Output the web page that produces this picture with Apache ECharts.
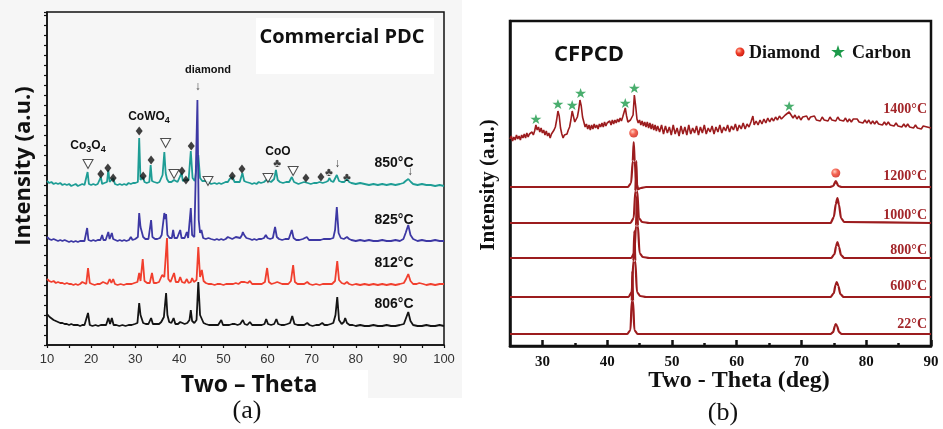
<!DOCTYPE html>
<html>
<head>
<meta charset="utf-8">
<script src="https://cdn.jsdelivr.net/npm/echarts@6.0.0/dist/echarts.min.js"></script>
<style>
  html, body { margin: 0; padding: 0; background: #fff; }
  #chart { width: 943px; height: 429px; }
</style>
</head>
<body>
<div id="chart"></div>
<script>
// ---------- Panel (a): Commercial PDC, stacked XRD patterns [2θ, offset intensity] ----------
const tickLabelsA = [10, 20, 30, 40, 50, 60, 70, 80, 90, 100];
const ticksA = [10, 15, 20, 25, 30, 35, 40, 45, 50, 55, 60, 65, 70, 75, 80, 85, 90, 95, 100];

const pattern850 = [
[10,164],[10.5,162],[11,163],[11.5,161],[12,162],[12.5,161],[13,162],[13.5,160],[14,161],[14.5,160],[15,161],[15.5,159],[16,160],[16.5,161],[17,159],[17.5,160],[18,161],[18.5,160],[18.9,161],[19.2,173],[19.5,161],[20,160],[20.5,161],[21,160],[21.5,161],[21.9,161],[22.2,168],[22.5,161],[23,162],[23.6,163],[23.9,175],[24.2,163],[24.6,163],[25.0,167],[25.4,161],[26,160],[26.5,161],[27,160],[27.5,161],[28,160],[28.5,162],[29,161],[29.5,162],[30,162],[30.6,163],[30.9,207],[31.2,165],[31.5,164],[31.8,168],[32.1,163],[32.6,162],[33.2,163],[33.5,180],[33.8,164],[34.3,163],[35,162],[35.5,163],[35.9,167],[36.2,170],[36.6,193],[36.9,172],[37.2,166],[37.6,163],[38.2,163],[38.5,164],[38.8,165],[39.1,163],[39.6,163],[40.0,164],[40.5,172],[40.8,164],[41.1,163],[41.4,165],[41.7,164],[42.1,165],[42.6,194],[43.0,167],[43.5,164],[43.9,166],[44.3,190],[44.7,167],[45.2,164],[45.8,164],[46.2,165],[46.6,163],[47.2,161],[48,162],[48.5,161],[49,162],[49.5,161],[50,162],[50.5,163],[51.0,163],[51.4,166],[51.8,165],[52.1,168],[52.5,163],[53,163],[53.7,163],[54.3,172],[54.7,164],[55.2,163],[56,162],[56.5,161],[57,162],[57.5,161],[58,163],[58.5,162],[59.2,163],[59.7,165],[60.1,163],[60.8,163],[61.5,166],[61.9,175],[62.3,165],[62.8,163],[63.5,162],[64.2,163],[64.9,163],[65.5,168],[66,163],[66.5,162],[67,161],[67.6,162],[68.3,163],[68.7,165],[69.1,162],[69.8,161],[70.5,162],[71.2,162],[71.8,163],[72.1,165],[72.5,162],[73.2,163],[73.7,164],[74.0,167],[74.4,164],[74.9,163],[75.7,170],[76.2,164],[76.8,163],[77.4,163],[78.0,166],[78.5,163],[79,162],[80,161],[81,162],[82,161],[83,160],[84,161],[85,160],[86,161],[87,160],[88,161],[89,160],[90,161],[90.8,162],[91.3,164],[91.9,166],[92.5,163],[93,161],[94,160],[95,161],[96,160],[97,160],[98,159],[99,160],[100,159]
];

const pattern825 = [
[10,108],[10.5,106],[11,105],[11.5,106],[12,105],[12.5,104],[13,105],[13.5,104],[14,105],[14.5,104],[15,103],[15.5,104],[16,103],[16.5,104],[17,103],[17.5,104],[18,104],[18.5,104],[18.8,105],[19.1,117],[19.4,105],[20,104],[20.5,105],[21,104],[21.5,105],[22.1,105],[22.5,110],[22.8,105],[23.3,105],[23.9,113],[24.2,106],[24.7,112],[25.0,106],[25.5,105],[26,104],[26.5,105],[27,104],[27.5,105],[28,104],[28.6,105],[29.0,108],[29.4,105],[30,106],[30.6,108],[30.9,132],[31.2,118],[31.5,120],[31.8,108],[32.3,106],[33,106],[33.3,108],[33.6,125],[33.9,108],[34.5,106],[35,106],[35.6,107],[36.0,110],[36.6,132],[36.8,126],[37.0,131],[37.3,110],[37.8,107],[38.3,107],[38.6,115],[38.9,107],[39.5,107],[40.2,115],[40.5,107],[41.2,107],[41.7,113],[42.0,107],[42.3,108],[42.6,137],[42.9,110],[43.4,108],[43.8,110],[44.1,245],[44.4,125],[44.7,112],[45.0,115],[45.4,107],[46,106],[46.6,107],[47.2,106],[48,105],[48.5,106],[49,105],[49.5,106],[50,105],[50.5,106],[51.0,108],[51.4,106],[52,106],[52.4,107],[52.8,108],[53.2,106],[53.8,107],[54.2,110],[54.4,113],[54.7,110],[55.2,107],[56,106],[56.5,105],[57,106],[57.5,105],[58,106],[58.6,106],[59.2,107],[59.6,110],[60.0,107],[60.6,106],[61.2,107],[61.7,118],[62.1,108],[62.6,106],[63.3,105],[64,106],[64.8,106],[65.5,115],[65.9,107],[66.5,105],[67.2,105],[68,106],[68.9,108],[69.4,105],[70,105],[71,105],[72,105],[72.7,106],[73.4,106],[74.2,106],[74.9,107],[75.3,115],[75.7,138],[76.1,112],[76.6,107],[77.3,106],[78.0,108],[78.5,106],[79,105],[80,104],[81,105],[82,104],[83,105],[84,104],[85,104],[86,105],[87,104],[88,104],[89,105],[90,104],[90.8,106],[91.3,112],[91.9,120],[92.4,110],[93,106],[94,104],[95,105],[96,104],[97,104],[98,105],[99,104],[100,104]
];

const pattern812 = [
[10,66],[10.5,64],[11,63],[11.5,64],[12,62],[12.5,63],[13,62],[13.5,62],[14,61],[14.5,62],[15,61],[15.5,61],[16,60],[16.5,61],[17,60],[17.5,61],[18.0,63],[18.4,61],[18.9,61],[19.3,77],[19.7,62],[20.2,61],[20.8,60],[21.4,61],[22,61],[22.7,63],[23.1,61],[23.7,61],[24.2,66],[24.6,62],[25.0,66],[25.4,61],[26,60],[26.7,61],[27.4,60],[28,61],[28.6,61],[29.2,61],[29.8,62],[30.5,63],[30.9,72],[31.2,64],[31.7,86],[32.1,64],[32.7,62],[33.3,62],[33.8,72],[34.2,62],[34.8,62],[35.4,63],[36.1,70],[36.6,68],[37.0,70],[37.2,107],[37.5,66],[38.0,63],[38.4,63],[38.8,72],[39.2,63],[39.8,63],[40.2,68],[40.6,63],[41.2,62],[41.7,66],[42.1,62],[42.6,63],[42.9,67],[43.3,63],[43.9,65],[44.3,98],[44.7,68],[45.1,75],[45.5,64],[46,62],[46.6,61],[47.3,61],[48,60],[48.6,61],[49.3,61],[50,60],[50.6,61],[51.0,63],[51.5,61],[52.2,61],[52.8,62],[53.4,61],[54.0,63],[54.4,65],[54.8,63],[55.1,65],[55.5,62],[56.0,64],[56.5,61],[57.2,61],[58,61],[58.7,61],[59.4,63],[59.9,77],[60.3,63],[60.9,61],[61.6,62],[62.2,63],[62.6,61],[63.3,61],[64,61],[64.7,61],[65.3,64],[65.8,80],[66.2,63],[66.8,61],[67.5,61],[68.3,61],[69.0,63],[69.5,61],[70.2,60],[71,61],[71.8,60],[72.5,61],[73.2,61],[73.9,61],[74.6,61],[75.3,64],[75.8,84],[76.2,65],[76.8,62],[77.4,61],[78.0,63],[78.5,61],[79.2,60],[80,61],[81,60],[82,61],[83,60],[84,61],[85,60],[86,61],[87,60],[88,61],[89,60],[90,61],[90.9,62],[91.4,66],[91.9,71],[92.4,64],[93,61],[93.8,61],[94.4,62],[94.8,63],[95.3,61],[96,60],[97,61],[98,60],[99,61],[100,61]
];

const pattern806 = [
[10,31],[10.3,30],[10.6,28],[11,27],[11.5,25],[12,24],[12.5,23],[13,22],[13.5,22],[14,21],[14.5,21],[15,20],[15.5,21],[16,20],[16.5,20],[17,20],[17.5,19],[18,20],[18.5,20],[18.9,20],[19.3,32],[19.7,20],[20.3,19],[21,20],[21.6,19],[22.2,20],[22.8,20],[23.4,20],[23.9,27],[24.3,21],[24.7,27],[25.1,20],[25.7,20],[26.4,19],[27.1,20],[27.8,19],[28.5,20],[29.2,20],[29.9,21],[30.5,22],[30.9,42],[31.2,30],[31.5,30],[31.8,22],[32.4,21],[33.0,21],[33.6,27],[34.0,21],[34.7,21],[35.4,21],[35.9,23],[36.5,28],[37.0,52],[37.3,30],[37.7,23],[38.2,22],[38.7,27],[39.1,21],[39.7,21],[40.2,23],[40.6,21],[41.2,21],[41.8,22],[42.3,25],[42.6,35],[42.9,24],[43.4,22],[43.9,25],[44.3,63],[44.7,30],[45.1,32],[45.5,22],[46,21],[46.7,20],[47.4,20],[48.1,20],[48.8,20],[49.5,25],[49.9,20],[50.6,20],[51.3,20],[52,21],[52.6,21],[53.2,20],[53.8,21],[54.4,25],[54.8,21],[55.4,20],[56.0,23],[56.5,20],[57.2,20],[58,20],[58.7,20],[59.3,21],[59.7,26],[60.1,21],[60.8,20],[61.5,21],[62.0,26],[62.4,21],[63.1,20],[63.8,20],[64.5,21],[65.1,22],[65.6,29],[66.1,21],[66.8,20],[67.5,20],[68.3,20],[69.0,22],[69.5,20],[70.2,19],[71,20],[71.7,20],[72.4,22],[72.9,20],[73.6,20],[74.3,21],[74.9,22],[75.4,30],[75.8,48],[76.2,25],[76.8,21],[77.3,23],[77.6,27],[78.0,22],[78.6,20],[79.3,20],[80,19],[81,20],[82,19],[83,19],[84,20],[85,19],[86,19],[87,20],[88,19],[89,19],[90,20],[90.9,21],[91.4,27],[91.9,33],[92.4,24],[93,20],[94,19],[95,19],[96,20],[97,19],[98,19],[99,20],[100,19]
];

// phase markers above the 850 °C pattern
const cowo4Marks = [[22.2,171],[23.8,177],[25.0,167],[30.9,214],[31.8,169],[33.6,185],[40.6,174],[41.5,165],[42.7,199],[52.0,169],[54.2,176],[68.7,167],[72.1,168]];
const co3o4Marks = [[19.3,181],[36.9,202],[38.8,171],[46.5,164],[60.1,167],[65.8,174]];
const cooMarks = [[62.2,181],[73.9,172],[78.0,167]];
const arrowMarks = [[75.8,181],[92.3,173],[44.2,258]];

// ---------- Panel (b): CFPCD ----------
const tickLabelsB = [30, 40, 50, 60, 70, 80, 90];
const minorTicksB = [35, 45, 55, 65, 75, 85];

const cfpcd1400 = [
[25.0,207],[25.2,210],[25.4,205],[25.6,209],[25.8,206],[26.0,211],[26.2,207],[26.4,210],[26.6,206],[26.8,211],[27.0,208],[27.2,212],[27.4,208],[27.6,213],[27.8,209],[28.0,212],[28.2,210],[28.4,214],[28.6,211],[28.8,215],[29.0,221],[29.1,222],[29.2,216],[29.4,219],[29.6,214],[29.8,218],[30.0,213],[30.2,216],[30.4,211],[30.6,215],[30.8,210],[31.0,213],[31.2,208],[31.4,212],[31.6,214],[31.8,216],[32.0,219],[32.2,226],[32.4,235],[32.6,230],[32.8,218],[33.0,212],[33.2,208],[33.4,211],[33.6,213],[33.8,212],[34.0,216],[34.2,219],[34.4,226],[34.6,235],[34.8,233],[35.0,224],[35.2,222],[35.4,229],[35.6,236],[35.8,246],[36.0,240],[36.2,229],[36.4,224],[36.6,219],[36.8,222],[37.0,217],[37.2,221],[37.4,216],[37.6,221],[37.8,217],[38.0,222],[38.2,218],[38.4,221],[38.6,217],[38.8,222],[39.0,219],[39.2,223],[39.4,219],[39.6,224],[39.8,220],[40.0,223],[40.2,221],[40.4,225],[40.6,221],[40.8,226],[41.0,222],[41.2,226],[41.4,223],[41.6,227],[41.8,224],[42.0,228],[42.2,225],[42.4,229],[42.6,227],[42.8,238],[42.9,239],[43.0,230],[43.2,224],[43.4,222],[43.6,226],[43.8,224],[44.0,231],[44.2,251],[44.3,251],[44.4,240],[44.6,227],[44.8,223],[45.0,226],[45.2,221],[45.4,225],[45.6,220],[45.8,224],[46.0,219],[46.2,224],[46.4,218],[46.6,223],[46.8,217],[47.0,222],[47.2,216],[47.4,221],[47.6,215],[47.8,220],
[48.1,214],[48.4,221],[48.7,212],[49.0,220],[49.3,213],[49.6,219],[49.9,211],[50.2,221],[50.5,212],[50.8,218],[51.1,210],[51.4,220],[51.7,212],[52.0,219],[52.3,211],[52.6,221],[52.9,212],[53.2,218],[53.5,213],[53.8,220],[54.1,211],[54.4,219],[54.7,213],[55.0,221],[55.3,212],[55.6,218],[55.9,214],[56.2,220],[56.5,212],[56.8,219],[57.1,214],[57.4,221],[57.7,213],[58.0,219],[58.3,215],[58.6,221],[58.9,214],[59.2,220],[59.5,216],[59.8,222],[60.1,215],[60.4,221],[60.7,217],[61.0,223],[61.3,217],[61.6,222],[61.9,219],[62.2,224],[62.5,230],[62.7,221],[63.0,225],[63.3,221],[63.6,226],[63.9,222],[64.2,227],[64.5,223],[64.8,228],[65.1,224],[65.4,228],[65.7,225],[66.0,229],[66.3,226],[66.6,230],[66.9,227],[67.2,229],[67.5,231],[67.8,229],[68.1,234],[68.4,231],[68.7,228],[69.0,231],[69.3,227],[69.6,230],[69.9,226],[70.2,229],[70.5,227],[70.8,230],[71.1,226],[71.4,229],[71.7,227],[72.0,230],[72.3,226],[72.6,228],[72.9,225],[73.2,229],[73.5,226],[73.8,228],[74.1,225],[74.4,229],[74.7,226],[75.0,228],[75.3,225],[75.6,229],[75.9,226],[76.2,228],[76.5,225],[76.8,228],[77.1,224],[77.4,227],[77.7,224],[78.0,227],[78.3,225],[78.6,227],[78.9,224],[79.2,226],[79.5,223],[79.8,226],[80.1,223],[80.4,226],[80.7,222],[81.0,225],[81.3,222],[81.6,225],[81.9,222],[82.2,224],[82.5,221],[82.8,224],[83.1,221],[83.4,224],[83.7,221],[84.0,223],[84.3,220],[84.6,223],[84.9,220],[85.2,222],[85.5,219],[85.8,222],[86.1,219],[86.4,222],[86.7,219],[87.0,221],[87.3,218],[87.6,221],[87.9,218],[88.2,220],[88.5,217],[88.8,220],[89.1,218],[89.4,219],[89.7,217],[90,218]
];
const cfpcd1200 = [[25,159],[35,159],[42,159],[43.2,159],[43.7,163],[43.95,185],[44.1,204],[44.25,185],[44.5,163],[44.8,157],[45.2,158],[46,159],[60,159],[74.4,159],[74.9,160],[75.3,165],[75.7,160],[76.2,159],[90,159]];
const cfpcd1000 = [[25,123],[35,123],[42,123],[43.6,123],[44.1,128],[44.35,155],[44.5,185],[44.65,155],[44.9,128],[45.4,124],[46.5,123],[60,123],[74.5,123],[75.0,129],[75.3,142],[75.55,148],[75.8,141],[76.1,128],[76.6,124],[90,123]];
const cfpcd800 = [[25,88],[35,88],[42,88],[43.7,88],[44.2,93],[44.45,120],[44.6,150],[44.75,120],[45.0,93],[45.5,89],[46.5,88],[60,88],[74.6,88],[75.1,92],[75.35,100],[75.55,104],[75.8,99],[76.1,91],[76.6,88],[90,88]];
const cfpcd600 = [[25,49],[35,49],[42,49],[43.3,49],[43.8,54],[44.05,85],[44.2,115],[44.35,85],[44.6,54],[45.1,50],[46,49],[60,49],[74.5,49],[75.0,53],[75.25,61],[75.45,64],[75.7,60],[76.0,52],[76.5,49],[90,49]];
const cfpcd22 = [[25,12],[35,12],[42,12],[43.1,12],[43.6,16],[43.8,45],[43.9,75],[44.0,45],[44.2,16],[44.7,12],[60,12],[74.5,12],[74.9,14],[75.15,20],[75.3,22],[75.5,20],[75.8,14],[76.2,12],[90,12]];

const diamondMarksB = [[44.1,213],[75.3,173]];
const carbonMarksB = [[29.0,227],[32.4,242],[34.6,241],[35.9,253],[42.8,243],[44.2,258],[68.1,240]];

const labelsA = ['850°C', '825°C', '812°C', '806°C'];
const labelsB = ['1400°C', '1200°C', '1000°C', '800°C', '600°C', '22°C'];

// ---------- styling ----------
const colTeal = '#1e9d95', colBlue = '#3d38a4', colRed = '#f13f2e', colBlack = '#141414';
const colWine = '#9c1c1e', colWineText = '#a3262a';
const starVerts = [[50,0],[61.8,35.5],[99,35.5],[69,57.5],[80.5,93],[50,71],[19.5,93],[31,57.5],[1,35.5],[38.2,35.5]];
const starPath = 'path://M' + starVerts.map(v => v.join(',')).join(' L') + ' Z';
const gemColor = { type: 'radial', x: 0.38, y: 0.35, r: 0.7, colorStops: [{ offset: 0, color: '#ffc2b0' }, { offset: 0.45, color: '#f2402a' }, { offset: 1, color: '#c8180e' }] };
const sans = '"Open Sans", "DejaVu Sans", sans-serif';
const arial = '"Liberation Sans", Arial, sans-serif';
const serif = '"Liberation Serif", "Times New Roman", serif';

const measureCtx = document.createElement('canvas').getContext('2d');
function textWidth(t, font) { measureCtx.font = font; return measureCtx.measureText(t).width; }
// chemical formula with subscripts, centred on (cx, cy)
function formula(cx, cy, parts) {
  const big = 'bold 12px ' + arial, small = 'bold 9px ' + arial;
  const total = parts.reduce((s, p) => s + textWidth(p[0], p[1] ? small : big), 0);
  let x = cx - total / 2;
  return parts.map(p => {
    const f = p[1] ? small : big;
    const el = { type: 'text', x: x, y: cy + (p[1] ? 4 : 0), z: 50,
      style: { text: p[0], font: f, fill: '#111', align: 'left', verticalAlign: 'middle' } };
    x += textWidth(p[0], f);
    return el;
  });
}

function curve(data, color, xi, width, z, smooth) {
  const s = { type: 'line', data: data, xAxisIndex: xi, yAxisIndex: xi, symbol: 'none', showSymbol: false,
    smooth: smooth ? 0.25 : false,
    lineStyle: { color: color, width: width }, itemStyle: { color: color }, z: z, animation: false, silent: true };
  if (smooth) s.smoothMonotone = 'x';
  return s;
}
function glyphs(data, glyph, font, xi) {
  return { type: 'scatter', data: data, xAxisIndex: xi, yAxisIndex: xi, symbol: 'circle', symbolSize: 1,
    itemStyle: { color: 'rgba(0,0,0,0)' }, z: 20, silent: true, animation: false,
    label: { show: true, position: 'inside', formatter: glyph, font: font, color: '#111' } };
}

const chart = echarts.init(document.getElementById('chart'), null, { renderer: 'canvas' });

const graphics = [
  // light grey backdrop of panel (a) with white boxes behind the heading and axis title
  { type: 'rect', z: -10, shape: { x: 0, y: 0, width: 462, height: 398 }, style: { fill: '#f6f6f6' } },
  { type: 'rect', z: -9, shape: { x: 256, y: 18, width: 178, height: 56 }, style: { fill: '#ffffff' } },
  { type: 'rect', z: -9, shape: { x: 0, y: 370, width: 368, height: 28 }, style: { fill: '#ffffff' } },

  { type: 'text', x: 342, y: 37, z: 50, style: { text: 'Commercial PDC', font: 'bold 20px ' + sans, fill: '#111', align: 'center', verticalAlign: 'middle' } },
  { type: 'text', x: 24, y: 166, rotation: Math.PI / 2, z: 50, style: { text: 'Intensity (a.u.)', font: 'bold 22px ' + sans, fill: '#111', align: 'center', verticalAlign: 'middle' } },
  { type: 'text', x: 249, y: 385, z: 50, style: { text: 'Two – Theta', font: 'bold 23px ' + sans, fill: '#111', align: 'center', verticalAlign: 'middle' } },
  { type: 'text', x: 247, y: 411, z: 50, style: { text: '(a)', font: '26px ' + serif, fill: '#111', align: 'center', verticalAlign: 'middle' } },
  { type: 'text', x: 208, y: 70, z: 50, style: { text: 'diamond', font: 'bold 11px ' + arial, fill: '#111', align: 'center', verticalAlign: 'middle' } },
  { type: 'text', x: 278, y: 152, z: 50, style: { text: 'CoO', font: 'bold 12px ' + arial, fill: '#111', align: 'center', verticalAlign: 'middle' } },
  ...formula(88, 146, [['Co', 0], ['3', 1], ['O', 0], ['4', 1]]),
  ...formula(149, 117, [['CoWO', 0], ['4', 1]]),

  // panel (b) texts and legend
  { type: 'text', x: 589, y: 55, z: 50, style: { text: 'CFPCD', font: 'bold 22px ' + sans, fill: '#111', align: 'center', verticalAlign: 'middle' } },
  { type: 'circle', z: 50, shape: { cx: 740, cy: 52, r: 4.5 }, style: { fill: gemColor } },
  { type: 'text', x: 749, y: 53, z: 50, style: { text: 'Diamond', font: 'bold 18px ' + serif, fill: '#111', align: 'left', verticalAlign: 'middle' } },
  { type: 'polygon', z: 50, shape: { points: starVerts.map(v => [831 + v[0] * 0.14, 45 + v[1] * 0.14]) }, style: { fill: '#1d9a4a' } },
  { type: 'text', x: 852, y: 53, z: 50, style: { text: 'Carbon', font: 'bold 18px ' + serif, fill: '#111', align: 'left', verticalAlign: 'middle' } },
  { type: 'text', x: 489, y: 185, rotation: Math.PI / 2, z: 50, style: { text: 'Intensity (a.u.)', font: 'bold 21px ' + serif, fill: '#111', align: 'center', verticalAlign: 'middle' } },
  { type: 'text', x: 739, y: 381, z: 50, style: { text: 'Two - Theta (deg)', font: 'bold 24px ' + serif, fill: '#111', align: 'center', verticalAlign: 'middle' } },
  { type: 'text', x: 723, y: 413, z: 50, style: { text: '(b)', font: '26px ' + serif, fill: '#111', align: 'center', verticalAlign: 'middle' } }
];

const labelYA = [163, 220, 263, 304];
labelsA.forEach((t, i) => graphics.push({ type: 'text', x: 394, y: labelYA[i], z: 50,
  style: { text: t, font: 'bold 14px ' + arial, fill: '#111', align: 'center', verticalAlign: 'middle' } }));
const labelYB = [109, 176, 215, 250, 286, 324];
labelsB.forEach((t, i) => graphics.push({ type: 'text', x: 927, y: labelYB[i], z: 50,
  style: { text: t, font: 'bold 14px ' + serif, fill: colWineText, align: 'right', verticalAlign: 'middle' } }));

const option = {
  backgroundColor: '#ffffff',
  animation: false,
  grid: [
    { left: 47, top: 12, width: 397, height: 333, show: true, borderColor: '#111', borderWidth: 1.5, backgroundColor: 'transparent' },
    { left: 510, top: 21, width: 421, height: 325, show: true, borderColor: '#111', borderWidth: 2.5, backgroundColor: 'transparent' }
  ],
  xAxis: [
    { type: 'value', gridIndex: 0, min: 10, max: 100, position: 'bottom',
      axisLine: { show: true, onZero: false, lineStyle: { color: '#111', width: 1.5 } },
      axisTick: { show: true, inside: false, length: 3, customValues: ticksA, lineStyle: { color: '#111', width: 1.2 } },
      axisLabel: { show: true, customValues: tickLabelsA, margin: 8, fontSize: 13, fontFamily: arial, color: '#333' },
      splitLine: { show: false } },
    { type: 'value', gridIndex: 1, min: 25, max: 90, position: 'bottom',
      axisLine: { show: true, onZero: false, lineStyle: { color: '#111', width: 2.5 } },
      axisTick: { show: true, inside: true, length: 6, customValues: tickLabelsB, lineStyle: { color: '#111', width: 2.5 } },
      axisLabel: { show: true, customValues: tickLabelsB, margin: 9, fontSize: 15, fontWeight: 'bold', fontFamily: serif, color: '#111' },
      splitLine: { show: false } },
    { type: 'value', gridIndex: 1, min: 25, max: 90, position: 'bottom', offset: 0,
      axisLine: { show: false },
      axisTick: { show: true, inside: true, length: 3, customValues: minorTicksB, lineStyle: { color: '#111', width: 2.5 } },
      axisLabel: { show: false }, splitLine: { show: false } }
  ],
  yAxis: [
    { type: 'value', gridIndex: 0, min: 0, max: 333, interval: 10,
      axisLine: { show: true, onZero: false, lineStyle: { color: '#111', width: 1.5 } },
      axisTick: { show: true, inside: false, length: 3, lineStyle: { color: '#111', width: 1.2 } },
      axisLabel: { show: false }, splitLine: { show: false } },
    { type: 'value', gridIndex: 1, min: 0, max: 325,
      axisLine: { show: true, onZero: false, lineStyle: { color: '#111', width: 2.5 } },
      axisTick: { show: false }, axisLabel: { show: false }, splitLine: { show: false } }
  ],
  series: [
    curve(pattern850, colTeal, 0, 1.8, 3),
    curve(pattern825, colBlue, 0, 1.8, 4),
    curve(pattern812, colRed, 0, 1.8, 5),
    curve(pattern806, colBlack, 0, 1.8, 6),
    { type: 'scatter', data: cowo4Marks, xAxisIndex: 0, yAxisIndex: 0, symbol: 'diamond', symbolSize: [7, 9],
      itemStyle: { color: '#111' }, z: 20, silent: true, animation: false },
    { type: 'scatter', data: co3o4Marks, xAxisIndex: 0, yAxisIndex: 0, symbol: 'triangle', symbolRotate: 180, symbolSize: [10, 9],
      itemStyle: { color: '#fff', borderColor: '#222', borderWidth: 1 }, z: 20, silent: true, animation: false },
    glyphs(cooMarks, '♣', '12px "DejaVu Sans"', 0),
    glyphs(arrowMarks, '↓', '16px "DejaVu Sans"', 0),

    curve(cfpcd1400, colWine, 1, 1.6, 3, false),
    curve(cfpcd1200, colWine, 1, 2.2, 4, true),
    curve(cfpcd1000, colWine, 1, 2.2, 5, true),
    curve(cfpcd800, colWine, 1, 2.2, 6, true),
    curve(cfpcd600, colWine, 1, 2.2, 7, true),
    curve(cfpcd22, colWine, 1, 2.2, 8, true),
    { type: 'scatter', data: diamondMarksB, xAxisIndex: 1, yAxisIndex: 1, symbol: 'circle', symbolSize: 9,
      itemStyle: { color: gemColor }, z: 20, silent: true, animation: false },
    { type: 'scatter', data: carbonMarksB, xAxisIndex: 1, yAxisIndex: 1, symbol: starPath, symbolSize: [11, 10],
      itemStyle: { color: '#1d9a4a' }, z: 20, silent: true, animation: false }
  ],
  graphic: graphics
};

chart.setOption(option);
</script>
</body>
</html>
